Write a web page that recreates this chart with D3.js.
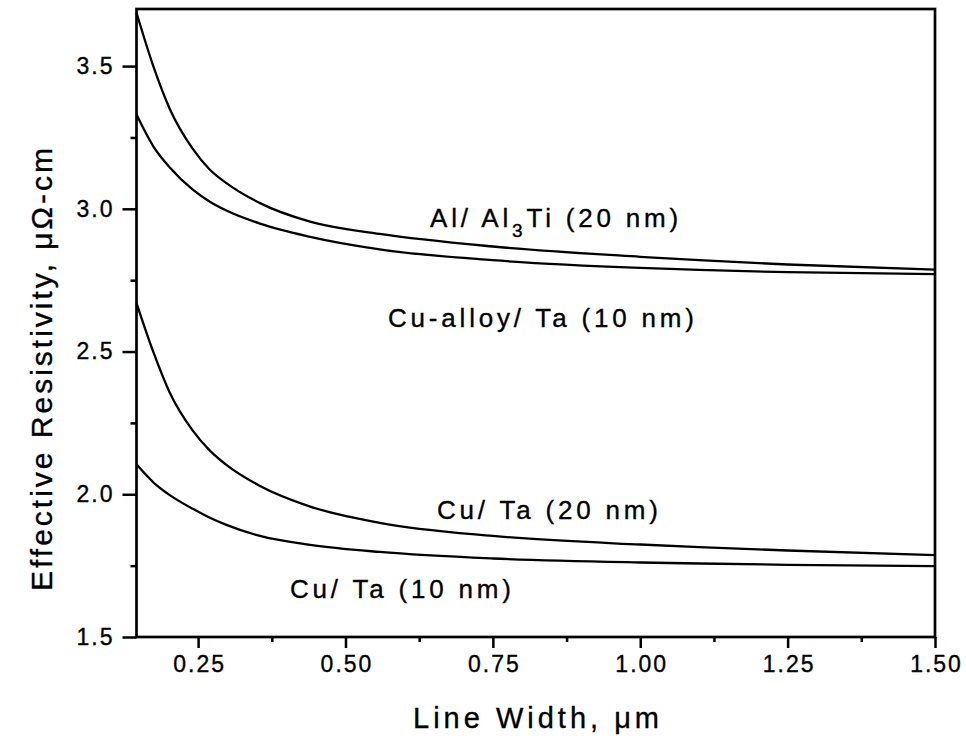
<!DOCTYPE html>
<html>
<head>
<meta charset="utf-8">
<script src="https://cdn.jsdelivr.net/npm/d3@7"></script>
<style>
  html, body { margin: 0; padding: 0; background: #fff; }
  svg { display: block; }
  text { font-family: "Liberation Sans", Arial, Helvetica, sans-serif; fill: #000; stroke: #000; stroke-width: 0.35px; }
</style>
</head>
<body>
<svg id="chart" width="966" height="740"></svg>
<script>
// Line width (µm) at which each curve is sampled
const widths = [0.1455, 0.174, 0.202, 0.241, 0.27, 0.298, 0.355, 0.44, 0.558, 0.75, 1.0, 1.1, 1.25, 1.5];

// Effective resistivity (µΩ-cm) for each barrier stack
const alAl3Ti20 = [3.687, 3.50, 3.35, 3.21, 3.137, 3.09, 3.02, 2.955, 2.912, 2.868, 2.832, 2.82, 2.805, 2.787];
const cuAlloyTa10 = [3.330, 3.219, 3.145, 3.067, 3.025, 2.994, 2.948, 2.902, 2.858, 2.820, 2.793, 2.786, 2.778, 2.771];
const cuTa20 = [2.67, 2.499, 2.356, 2.223, 2.153, 2.103, 2.029, 1.957, 1.900, 1.854, 1.824, 1.815, 1.803, 1.787];
const cuTa10 = [2.105, 2.042, 1.997, 1.949, 1.918, 1.893, 1.854, 1.823, 1.798, 1.775, 1.761, 1.7575, 1.753, 1.7485];

// Axis ticks
const xMajorTicks = [0.25, 0.50, 0.75, 1.00, 1.25, 1.50];
const xMinorTicks = [0.375, 0.625, 0.875, 1.125, 1.375];
const yMajorTicks = [1.5, 2.0, 2.5, 3.0, 3.5];
const yMinorTicks = [1.75, 2.25, 2.75, 3.25];

const svg = d3.select("#chart");
const margin = { left: 136.5, right: 31, top: 9, bottom: 103 };
const W = 966, H = 740;

const x = d3.scaleLinear().domain([0.1455, 1.5]).range([margin.left, W - margin.right]);
const y = d3.scaleLinear().domain([1.5, 3.7]).range([H - margin.bottom, margin.top]);

// Curves
const series = [alAl3Ti20, cuAlloyTa10, cuTa20, cuTa10];
const line = d3.line()
  .x(d => x(d[0]))
  .y(d => y(d[1]))
  .curve(d3.curveMonotoneX);

svg.append("g")
  .selectAll("path")
  .data(series)
  .join("path")
  .attr("d", s => line(widths.map((w, i) => [w, s[i]])))
  .attr("fill", "none")
  .attr("stroke", "#000")
  .attr("stroke-width", 2.3);

// Bottom axis: major ticks with labels, minor ticks
const xAxis = svg.append("g").attr("transform", `translate(0,${y(1.5)})`);
xAxis.call(d3.axisBottom(x).tickValues(xMajorTicks).tickSize(11).tickPadding(8)
  .tickFormat(d3.format(".2f")));
xAxis.call(g => g.select(".domain").remove());
xAxis.selectAll(".tick line").attr("stroke-width", 2.5);
xAxis.selectAll(".tick text")
  .attr("font-size", 23).attr("letter-spacing", "2px").attr("dx", 1)
  .style("font-family", "'Liberation Sans', Arial, sans-serif");
const xMinor = svg.append("g").attr("transform", `translate(0,${y(1.5)})`);
xMinor.call(d3.axisBottom(x).tickValues(xMinorTicks).tickSize(5).tickFormat(""));
xMinor.call(g => g.select(".domain").remove());
xMinor.selectAll(".tick line").attr("stroke-width", 2.5);

// Left axis
const yAxis = svg.append("g").attr("transform", `translate(${x(0.1455)},0)`);
yAxis.call(d3.axisLeft(y).tickValues(yMajorTicks).tickSize(14).tickPadding(10)
  .tickFormat(d3.format(".1f")));
yAxis.call(g => g.select(".domain").remove());
yAxis.selectAll(".tick line").attr("stroke-width", 2.5);
yAxis.selectAll(".tick text")
  .attr("font-size", 23).attr("letter-spacing", "2px").attr("dx", 2)
  .style("font-family", "'Liberation Sans', Arial, sans-serif");
const yMinor = svg.append("g").attr("transform", `translate(${x(0.1455)},0)`);
yMinor.call(d3.axisLeft(y).tickValues(yMinorTicks).tickSize(6).tickFormat(""));
yMinor.call(g => g.select(".domain").remove());
yMinor.selectAll(".tick line").attr("stroke-width", 2.5);

// Plot frame
svg.append("rect")
  .attr("x", x(0.1455)).attr("y", y(3.7))
  .attr("width", x(1.5) - x(0.1455)).attr("height", y(1.5) - y(3.7))
  .attr("fill", "none").attr("stroke", "#000").attr("stroke-width", 2.7);

// Axis titles
svg.append("text")
  .attr("x", 538).attr("y", 728)
  .attr("text-anchor", "middle")
  .attr("font-size", 29).attr("letter-spacing", "4px")
  .text("Line Width, \u03bcm");

svg.append("text")
  .attr("transform", "translate(52,368) rotate(-90)")
  .attr("text-anchor", "middle")
  .attr("font-size", 30).attr("letter-spacing", "3px")
  .text("Effective Resistivity, \u03bc\u03a9-cm");

// Curve annotations
const ann = svg.append("g").attr("font-size", 26).attr("letter-spacing", "3.8px");

const al = ann.append("text").attr("x", 430).attr("y", 227);
al.append("tspan").text("Al/ Al");
al.append("tspan").attr("dy", 10).attr("font-size", 19).text("3");
al.append("tspan").attr("dy", -10).text("Ti (20 nm)");

ann.append("text").attr("x", 388).attr("y", 327).text("Cu-alloy/ Ta (10 nm)");
ann.append("text").attr("x", 437).attr("y", 519).text("Cu/ Ta (20 nm)");
ann.append("text").attr("x", 290).attr("y", 598).text("Cu/ Ta (10 nm)");
</script>
</body>
</html>
